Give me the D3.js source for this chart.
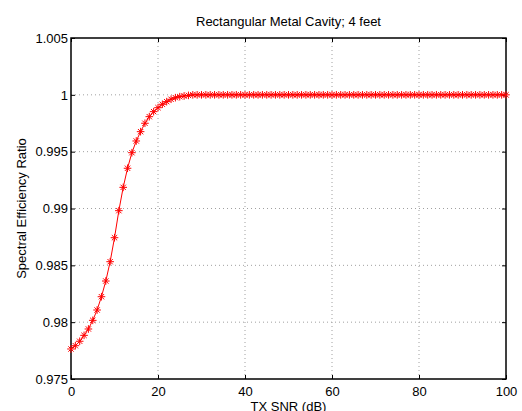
<!DOCTYPE html>
<html>
<head>
<meta charset="utf-8">
<script src="https://cdn.jsdelivr.net/npm/d3@7"></script>
<style>
  body { margin: 0; background: #fff; }
  svg text { font-family: "Liberation Sans", Arial, sans-serif; font-size: 13px; fill: #000; }
</style>
</head>
<body>
<div class="chart"></div>
<script>
var svgWidth = 522;
var svgHeight = 411;

var margin = { top: 38, right: 16, bottom: 32, left: 71 };
var width = svgWidth - margin.left - margin.right;
var height = svgHeight - margin.top - margin.bottom;

// TX SNR (dB), 0..100 in 1 dB steps
var snr = d3.range(0, 101);
// spectral efficiency ratio (points 0..27, then flat at 1)
var ratioHead = [0.97764, 0.97793, 0.97832, 0.97884, 0.97940, 0.98016, 0.98107, 0.98224,
  0.98362, 0.98532, 0.98743, 0.98981, 0.99186, 0.99354, 0.99491, 0.99594, 0.99676,
  0.99750, 0.99808, 0.99852, 0.99887, 0.99917, 0.99940, 0.99961, 0.99975, 0.99984,
  0.99990, 0.99995];
var ratio = snr.map(function(d, i) { return i < ratioHead.length ? ratioHead[i] : 1.0; });

var xTicks = [0, 20, 40, 60, 80, 100];
var yTicks = [0.975, 0.98, 0.985, 0.99, 0.995, 1, 1.005];

var data = snr.map(function(s, i) { return { snr: s, ratio: ratio[i] }; });

var svg = d3.select(".chart")
  .append("svg")
  .attr("width", svgWidth)
  .attr("height", svgHeight);

var chartGroup = svg.append("g")
  .attr("transform", `translate(${margin.left}, ${margin.top})`);

var xScale = d3.scaleLinear().domain([0, 100]).range([0, width]);
var yScale = d3.scaleLinear().domain([0.975, 1.005]).range([height, 0]);

// grid lines (dotted)
chartGroup.selectAll(".xgrid")
  .data(xTicks.slice(1, -1))
  .enter().append("line")
  .attr("x1", d => xScale(d)).attr("x2", d => xScale(d))
  .attr("y1", 0).attr("y2", height)
  .attr("stroke", "#a0a0a0").attr("stroke-width", 1)
  .attr("stroke-dasharray", "1,3");

chartGroup.selectAll(".ygrid")
  .data(yTicks.slice(1, -1))
  .enter().append("line")
  .attr("y1", d => yScale(d)).attr("y2", d => yScale(d))
  .attr("x1", 0).attr("x2", width)
  .attr("stroke", "#a0a0a0").attr("stroke-width", 1)
  .attr("stroke-dasharray", "1,3");

// axes, ticks pointing inward
var bottomAxis = d3.axisBottom(xScale).tickValues(xTicks).tickSize(-4).tickPadding(8).tickFormat(d3.format("d"));
var leftAxis = d3.axisLeft(yScale).tickValues(yTicks).tickSize(-4).tickPadding(3).tickFormat(d => d3.format("")(d));
var topAxis = d3.axisTop(xScale).tickValues(xTicks).tickSize(-4).tickFormat("");
var rightAxis = d3.axisRight(yScale).tickValues(yTicks).tickSize(-4).tickFormat("");

function styleAxis(g) {
  g.select(".domain").remove();
  g.selectAll("line").attr("stroke", "#000");
  g.selectAll("text").style("font-size", "13px").attr("font-family", "Liberation Sans, Arial, sans-serif");
}

chartGroup.append("g").attr("transform", `translate(0, ${height})`).call(bottomAxis).call(styleAxis);
chartGroup.append("g").call(leftAxis).call(styleAxis);
chartGroup.append("g").call(topAxis).call(styleAxis);
chartGroup.append("g").attr("transform", `translate(${width}, 0)`).call(rightAxis).call(styleAxis);

// box
chartGroup.append("rect")
  .attr("x", 0).attr("y", 0)
  .attr("width", width).attr("height", height)
  .attr("fill", "none").attr("stroke", "#000").attr("stroke-width", 1.5);

// line
var line = d3.line().x(d => xScale(d.snr)).y(d => yScale(d.ratio));
chartGroup.append("path")
  .datum(data)
  .attr("d", line)
  .attr("fill", "none")
  .attr("stroke", "#ff0000")
  .attr("stroke-width", 1);

// asterisk markers
var r = 3.8;
var starPath = `M${-r},0L${r},0M0,${-r}L0,${r}M${-r*0.7},${-r*0.7}L${r*0.7},${r*0.7}M${-r*0.7},${r*0.7}L${r*0.7},${-r*0.7}`;
chartGroup.selectAll(".marker")
  .data(data)
  .enter().append("path")
  .attr("class", "marker")
  .attr("transform", d => `translate(${xScale(d.snr)}, ${yScale(d.ratio)})`)
  .attr("d", starPath)
  .attr("stroke", "#ff0000")
  .attr("stroke-width", 1)
  .attr("fill", "none");

// title and axis labels
svg.append("text")
  .attr("x", margin.left + width / 2)
  .attr("y", 26)
  .attr("text-anchor", "middle")
  .text("Rectangular Metal Cavity; 4 feet");

svg.append("text")
  .attr("x", margin.left + width / 2)
  .attr("y", 411)
  .attr("text-anchor", "middle")
  .text("TX SNR (dB)");

svg.append("text")
  .attr("transform", `translate(26, ${margin.top + height / 2}) rotate(-90)`)
  .attr("text-anchor", "middle")
  .text("Spectral Efficiency Ratio");
</script>
</body>
</html>
